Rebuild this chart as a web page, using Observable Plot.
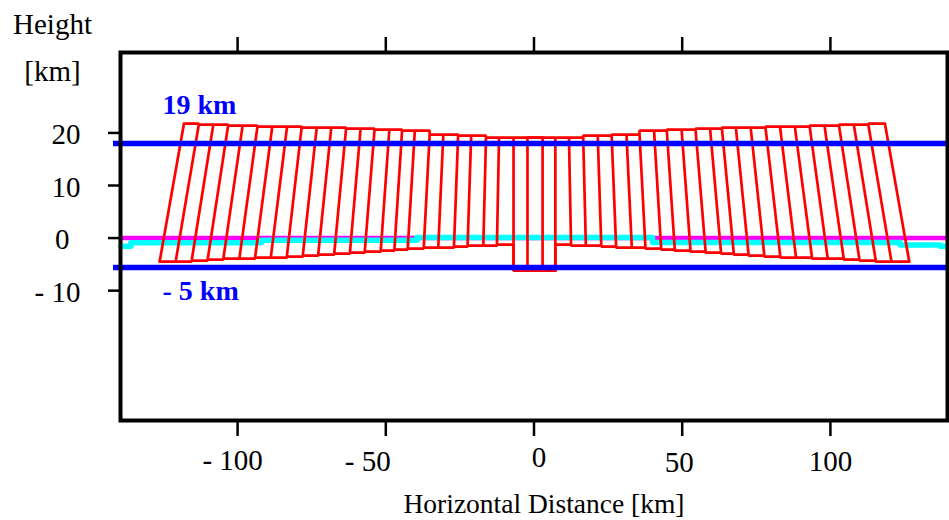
<!DOCTYPE html>
<html><head><meta charset="utf-8">
<script src="https://cdn.jsdelivr.net/npm/d3@7"></script>
<script src="https://cdn.jsdelivr.net/npm/@observablehq/plot@0.6"></script>
<style>body{margin:0;background:#fff}svg{display:block}svg text{font-family:"Liberation Serif",serif !important}</style>
</head><body><div id="chart"></div>
<script>
// axis ticks
const xTicks = [-100, -50, 0, 50, 100];
const xTickLabels = ["- 100", "- 50", "0", "50", "100"];
const yTicks = [20, 10, 0, -10];
const yTickLabels = ["20", "10", "0", "- 10"];

// slanted columns (km): top and bottom ends of each red line
const colXTop = [-118.1,-113.1,-108.2,-103.2,-98.3,-93.3,-88.3,-83.3,-78.4,-73.3,-68.4,-63.4,-58.5,-53.8,-48.8,-44.5,-40.2,-35.2,-30.6,-25.6,-21.2,-16.2,-11.8,-6.9,-2.2,2.9,7.2,11.8,16.6,21.5,26.2,31.2,35.6,40.5,44.8,49.8,54.5,59.4,63.4,68.1,73.1,78.1,83.0,88.0,93.0,98.0,102.9,107.9,112.8,118.4];
const colYTop = [21.76,21.57,21.57,21.38,21.38,21.19,21.19,21.19,21.00,21.00,21.00,20.81,20.81,20.62,20.62,20.43,20.43,19.67,19.67,19.48,19.48,19.10,19.10,19.10,19.10,19.10,19.10,19.10,19.10,19.48,19.48,19.67,19.67,20.43,20.43,20.62,20.62,20.81,20.81,21.00,21.00,21.00,21.19,21.19,21.19,21.38,21.38,21.57,21.57,21.76];
const colXBot = [-126.3,-120.9,-115.5,-110.1,-104.8,-99.4,-94.1,-88.8,-83.4,-78.0,-72.8,-67.4,-62.1,-57.1,-51.7,-47.1,-42.6,-37.2,-32.3,-27.0,-22.4,-17.1,-12.5,-6.9,-2.2,2.9,7.2,12.5,17.5,22.7,27.7,33.0,37.6,42.9,47.5,52.8,57.9,63.1,67.4,72.4,77.7,83.1,88.4,93.8,99.1,104.5,109.8,115.3,120.6,126.6];
const colYBot = [-4.49,-4.49,-4.30,-4.11,-3.92,-3.92,-3.73,-3.73,-3.54,-3.35,-3.16,-2.97,-2.78,-2.59,-2.40,-2.21,-2.02,-1.83,-1.83,-1.64,-1.45,-1.45,-1.26,-6.20,-6.20,-6.20,-6.20,-1.26,-1.45,-1.45,-1.64,-1.83,-1.83,-2.02,-2.21,-2.40,-2.59,-2.78,-2.97,-3.16,-3.35,-3.54,-3.73,-3.73,-3.92,-3.92,-4.11,-4.30,-4.49,-4.49];

// magenta base level and cyan ground line
const baseY = [0];
const groundX = [-139.5,-136,-136,-92,-92,-39.5,-39.5,40,40,123.5,123.5,137,137,139.5];
const groundY = [-1.55,-1.55,-0.9,-0.9,-0.4,-0.4,0.1,0.1,-0.85,-0.85,-1.3,-1.3,-1.55,-1.55];

// blue levels
const levelY = [18, -5.6];
const levelLabels = ["19 km", "- 5 km"];

const cols = colXTop.map((_, i) => ({xTop: colXTop[i], yTop: colYTop[i], xBot: colXBot[i], yBot: colYBot[i]}));
const ground = groundX.map((x, i) => ({x, y: groundY[i]}));
const levels = levelY.map((y, i) => ({y, label: levelLabels[i]}));

const RED = "#ff0000", BLUE = "#0000ff";
const SERIF = "Liberation Serif";
const redOpts = {stroke: RED, strokeWidth: 2.7, strokeLinejoin: "miter"};
const FONT = 29;
const xNudge = [-5, -18, 5, -3, 0];
const xNudgeY = [40, 41, 37, 42, 41];
const txt = {fontFamily: SERIF, lineAnchor: "middle", fill: "#000"};

const chart = Plot.plot({
  width: 949,
  height: 520,
  marginLeft: 120,
  marginRight: 2,
  marginTop: 52,
  marginBottom: 100,
  style: {fontFamily: SERIF, fontSize: "29px", background: "#fff", color: "#000"},
  x: {domain: [-139.5, 139.5], axis: null},
  y: {domain: [-34.7, 35.3], axis: null},
  marks: [
    Plot.ruleY(baseY, {stroke: "#ff00ff", strokeWidth: 4.5}),
    Plot.line(ground, {x: "x", y: "y", stroke: "#00ffff", strokeWidth: 5.5}),
    Plot.link(cols, {x1: "xBot", y1: "yBot", x2: "xTop", y2: "yTop", ...redOpts}),
    Plot.line(cols.slice(0, 26), {x: "xTop", y: "yTop", curve: "step-after", ...redOpts}),
    Plot.line(cols.slice(24), {x: "xTop", y: "yTop", curve: "step-before", ...redOpts}),
    Plot.line(cols.slice(0, 27), {x: "xBot", y: "yBot", curve: "step-after", ...redOpts}),
    Plot.line(cols.slice(26), {x: "xBot", y: "yBot", curve: "step-before", ...redOpts}),
    Plot.ruleY(levelY, {stroke: BLUE, strokeWidth: 5.5, insetLeft: -7, insetRight: -2}),
    Plot.text(levels.slice(0, 1), {y: "y", text: "label", frameAnchor: "left", dx: 42, dy: -38, textAnchor: "start", ...txt, fill: BLUE, fontWeight: "bold", fontSize: 28}),
    Plot.text(levels.slice(1), {y: "y", text: "label", frameAnchor: "left", dx: 42, dy: 24, textAnchor: "start", ...txt, fill: BLUE, fontWeight: "bold", fontSize: 28}),
    Plot.frame({stroke: "#000", strokeWidth: 4}),
    Plot.axisX({anchor: "top", ticks: xTicks, tickSize: 16, tickFormat: () => "", label: null, strokeWidth: 2.5}),
    Plot.axisX({anchor: "bottom", ticks: xTicks, tickSize: 16, tickFormat: () => "", label: null, strokeWidth: 2.5}),
    Plot.axisY({anchor: "left", ticks: yTicks, tickSize: 12, tickFormat: () => "", label: null, strokeWidth: 2.5}),
    ...xTicks.map((t, i) => Plot.text([t], {x: d => d, text: () => xTickLabels[i], frameAnchor: "bottom", dx: xNudge[i], dy: xNudgeY[i], textAnchor: "middle", fontSize: FONT, ...txt})),
    Plot.text(yTicks.filter(t => t !== 0), {y: d => d, text: d => yTickLabels[yTicks.indexOf(d)], frameAnchor: "left", dx: -40, dy: 2, textAnchor: "end", fontSize: FONT, ...txt}),
    Plot.text(yTicks.filter(t => t === 0), {y: d => d, text: d => yTickLabels[yTicks.indexOf(d)], frameAnchor: "left", dx: -51, dy: 2, textAnchor: "end", fontSize: FONT, ...txt}),
    Plot.text(["Height"], {frameAnchor: "top-left", dx: -68, dy: -28, textAnchor: "middle", fontSize: FONT, ...txt}),
    Plot.text(["[km]"], {frameAnchor: "top-left", dx: -68, dy: 19, textAnchor: "middle", fontSize: FONT, ...txt}),
    Plot.text(["Horizontal Distance [km]"], {frameAnchor: "bottom", dx: 10, dy: 84, textAnchor: "middle", fontSize: 27.5, ...txt})
  ]
});
document.getElementById("chart").appendChild(chart);
</script>
</body></html>
